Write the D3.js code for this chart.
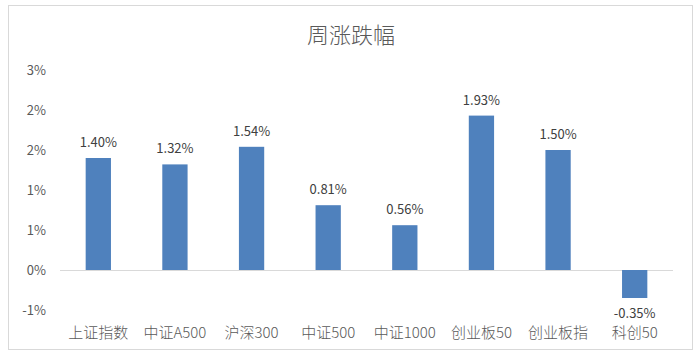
<!DOCTYPE html>
<html><head><meta charset="utf-8">
<script src="https://cdn.jsdelivr.net/npm/d3@7"></script>
<style>body{margin:0;background:#fff;}svg{display:block;}</style>
</head><body>
<svg id="c" width="700" height="357"></svg>
<script>
const categories = ["上证指数","中证A500","沪深300","中证500","中证1000","创业板50","创业板指","科创50"];
const values = [1.40, 1.32, 1.54, 0.81, 0.56, 1.93, 1.50, -0.35];
const valueLabels = ["1.40%","1.32%","1.54%","0.81%","0.56%","1.93%","1.50%","-0.35%"];
const yTickValues = [2.5, 2, 1.5, 1, 0.5, 0, -0.5];
const yTickLabels = ["3%","2%","2%","1%","1%","0%","-1%"];
const title = "周涨跌幅";

const svg = d3.select("#c");
const font = "'Noto Sans CJK SC','Noto Sans',sans-serif";

svg.append("rect").attr("x",8.5).attr("y",5.5).attr("width",684).attr("height",344)
  .attr("fill","#fff").attr("stroke","#d9d9d9").attr("stroke-width",1);

svg.append("text").attr("x",351).attr("y",43).attr("text-anchor","middle")
  .attr("font-family",font).attr("font-weight",300).attr("font-size",22).attr("fill","#595959").text(title);

const x = d3.scaleBand().domain(categories).range([60,673]).paddingInner(0.67).paddingOuter(0.335);
const y = d3.scaleLinear().domain([-0.5,2.5]).range([310,70]);

const yAxis = d3.axisLeft(y).tickValues(yTickValues).tickSize(0).tickPadding(0)
  .tickFormat((d,i)=>yTickLabels[i]);
const gy = svg.append("g").attr("transform","translate(46,0)").call(yAxis);
gy.select(".domain").remove();
gy.selectAll("text").attr("font-family",font).attr("font-size",13).attr("fill","#595959");

svg.append("line").attr("x1",60).attr("x2",673).attr("y1",y(0)+0.5).attr("y2",y(0)+0.5)
  .attr("stroke","#d9d9d9").attr("stroke-width",1);

svg.selectAll("rect.bar").data(values).enter().append("rect").attr("class","bar")
  .attr("x",(d,i)=>x(categories[i])).attr("width",x.bandwidth())
  .attr("y",d=>y(Math.max(0,d))).attr("height",d=>Math.abs(y(d)-y(0)))
  .attr("fill","#4f81bd");

svg.selectAll("text.vl").data(values).enter().append("text").attr("class","vl")
  .attr("x",(d,i)=>x(categories[i])+x.bandwidth()/2)
  .attr("y",d=> d>=0 ? y(d)-11 : y(d)+20)
  .attr("text-anchor","middle").attr("font-family",font).attr("font-size",13).attr("fill","#404040")
  .text((d,i)=>valueLabels[i]);

const xAxis = d3.axisBottom(x).tickSize(0).tickPadding(0);
const gx = svg.append("g").attr("transform","translate(0,338)").call(xAxis);
gx.select(".domain").remove();
gx.selectAll("text").attr("dy",0).attr("font-family",font).attr("font-weight",300).attr("font-size",15).attr("fill","#595959");
</script>
</body></html>
